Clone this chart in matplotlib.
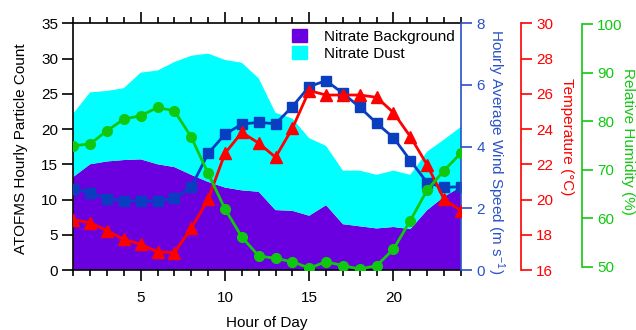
import matplotlib
matplotlib.use('Agg')
import matplotlib.pyplot as plt
from matplotlib.patches import Patch
from matplotlib.ticker import MultipleLocator

plt.rcParams['font.family'] = ['Liberation Sans', 'DejaVu Sans']
plt.rcParams['mathtext.fontset'] = 'custom'
plt.rcParams['mathtext.rm'] = 'Liberation Sans'
plt.rcParams['mathtext.it'] = 'Liberation Sans'

hours = list(range(1, 25))
nitrate_background = [13.2, 15.0, 15.4, 15.6, 15.7, 15.0, 14.6, 13.5, 12.5, 11.7, 11.3, 11.1,
                      8.5, 8.4, 7.7, 9.2, 6.5, 6.2, 5.9, 6.1, 5.8, 8.5, 10.4, 11.8]
nitrate_dust = [9.0, 10.2, 10.0, 10.2, 12.3, 13.3, 14.9, 16.9, 18.2, 18.1, 18.1, 16.1,
                13.8, 13.1, 11.0, 8.4, 7.6, 7.9, 7.6, 8.0, 7.7, 8.3, 8.1, 8.5]
wind_speed = [2.63, 2.51, 2.30, 2.25, 2.24, 2.24, 2.33, 2.69, 3.78, 4.40, 4.73, 4.79,
              4.74, 5.30, 5.95, 6.14, 5.73, 5.28, 4.76, 4.29, 3.55, 2.83, 2.68, 2.70]
temperature = [18.84, 18.69, 18.23, 17.74, 17.46, 17.04, 16.98, 18.37, 20.01, 22.62, 23.81, 23.20,
               22.40, 24.04, 26.18, 25.93, 25.93, 25.93, 25.80, 24.93, 23.57, 21.96, 20.01, 19.37]
humidity = [74.9, 75.3, 78.0, 80.4, 81.1, 82.8, 82.1, 76.7, 69.2, 61.9, 56.1, 52.2,
            51.7, 51.0, 49.7, 51.0, 50.2, 49.5, 50.2, 53.6, 59.5, 65.8, 69.8, 73.4]

C_BG = '#6a00e0'
C_DUST = '#00ffff'
C_BLUE = '#0a3ec0'
C_BLUE_AX = '#2a52c8'
C_RED = '#ff0000'
C_GREEN = '#10c810'

W, H = 636, 330
fig = plt.figure(figsize=(W / 100, H / 100), dpi=100)
x0, x1, y0, y1 = 73.3, 460.9, 23.3, 270.0
ax = fig.add_axes([x0 / W, 1 - y1 / H, (x1 - x0) / W, (y1 - y0) / H])

ax.stackplot(hours, nitrate_background, nitrate_dust, colors=[C_BG, C_DUST], linewidth=0)
ax.set_xlim(1, 24)
ax.set_ylim(0, 35)
ax.yaxis.set_major_locator(MultipleLocator(5))
ax.xaxis.set_major_locator(MultipleLocator(5))
ax.xaxis.set_minor_locator(MultipleLocator(1))
ax.tick_params(axis='x', which='major', direction='out', length=8, width=1.2, top=True,
               labelsize=11, pad=7)
ax.tick_params(axis='x', which='minor', direction='out', length=4, width=1.2, top=True)
ax.tick_params(axis='y', which='major', direction='out', length=8, width=1.2, labelsize=11, pad=3)
for s in ax.spines.values():
    s.set_linewidth(1.2)
ax.spines['right'].set_visible(False)
ax.set_xlabel('Hour of Day', fontsize=11)
ax.xaxis.set_label_coords(0.5, -0.185)
ax.set_ylabel('ATOFMS Hourly Particle Count', fontsize=11)
ax.yaxis.set_label_coords(-0.118, 0.49)

leg = ax.legend(handles=[Patch(color=C_BG, label='Nitrate Background'),
                         Patch(color=C_DUST, label='Nitrate Dust')],
                loc='upper right', frameon=False, fontsize=11, handlelength=1.0,
                handleheight=0.9, handletextpad=1.1, labelspacing=0.15,
                borderaxespad=0.3, bbox_to_anchor=(1.012, 1.02))

# wind speed axis
ax2 = ax.twinx()
ax2.plot(hours, wind_speed, color=C_BLUE, marker='s', markersize=6.5, linewidth=2)
ax2.set_ylim(0, 8)
ax2.yaxis.set_major_locator(MultipleLocator(2))
for k in ['top', 'bottom', 'left']:
    ax2.spines[k].set_visible(False)
ax2.spines['right'].set_color(C_BLUE_AX)
ax2.spines['right'].set_linewidth(1.2)
ax2.tick_params(axis='y', colors=C_BLUE_AX, length=8, width=1.2, labelsize=11, pad=3)

# temperature axis
ax3 = ax.twinx()
ax3.plot(hours, temperature, color=C_RED, marker='^', markersize=8, linewidth=2)
ax3.set_ylim(16, 30)
ax3.yaxis.set_major_locator(MultipleLocator(2))
ax3.spines['right'].set_position(('axes', (521 - x0) / (x1 - x0)))
for k in ['top', 'bottom', 'left']:
    ax3.spines[k].set_visible(False)
ax3.spines['right'].set_color(C_RED)
ax3.spines['right'].set_linewidth(1.2)
ax3.tick_params(axis='y', colors=C_RED, length=8, width=1.2, labelsize=11, pad=3)

# humidity axis
ax4 = ax.twinx()
ax4.plot(hours, humidity, color=C_GREEN, marker='o', markersize=7, linewidth=2)
ax4.set_ylim(49.3, 100.15)
ax4.yaxis.set_major_locator(MultipleLocator(10))
ax4.spines['right'].set_position(('axes', (581.7 - x0) / (x1 - x0)))
ax4.spines['right'].set_bounds(50, 100)
for k in ['top', 'bottom', 'left']:
    ax4.spines[k].set_visible(False)
ax4.spines['right'].set_color(C_GREEN)
ax4.spines['right'].set_linewidth(1.2)
ax4.tick_params(axis='y', colors=C_GREEN, length=8, width=1.2, labelsize=11, pad=3)

for a in (ax2, ax3, ax4):
    a.patch.set_visible(False)
    a.set_xlim(1, 24)

fig.text(496 / W, 1 - 152 / H, 'Hourly Average Wind Speed (m s$^{-1}$)', rotation=270,
         ha='center', va='center', fontsize=11, color=C_BLUE_AX)
fig.text(567 / W, 1 - 137 / H, 'Temperature (\u00b0C)', rotation=270,
         ha='center', va='center', fontsize=11, color=C_RED)
fig.text(628 / W, 1 - 141 / H, 'Relative Humidity (%)', rotation=270,
         ha='center', va='center', fontsize=11, color=C_GREEN)

fig.savefig('out.png', dpi=100)
